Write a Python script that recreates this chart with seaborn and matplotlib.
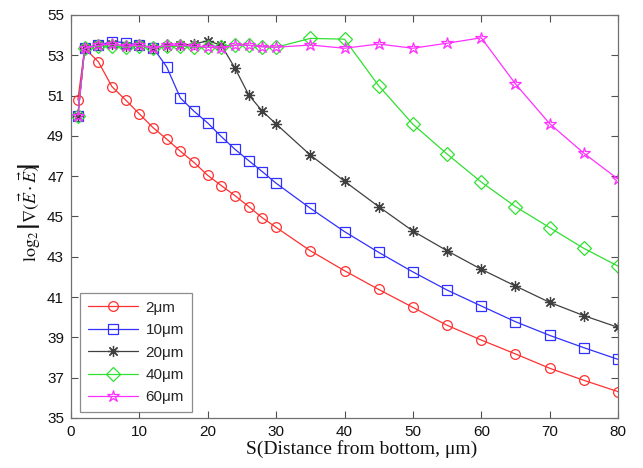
import numpy as np
import pandas as pd
import matplotlib
matplotlib.use("Agg")
import matplotlib.pyplot as plt
import seaborn as sns

x = [1, 2, 4, 6, 8, 10, 12, 14, 16, 18, 20, 22, 24, 26, 28, 30,
     35, 40, 45, 50, 55, 60, 65, 70, 75, 80]

y_2um = [50.78, 53.35, 52.68, 51.44, 50.78, 50.09, 49.41, 48.84, 48.24, 47.68,
         47.04, 46.53, 46.03, 45.49, 44.93, 44.46, 43.30, 42.31, 41.38, 40.49,
         39.60, 38.87, 38.18, 37.47, 36.87, 36.31]
y_10um = [50.0, 53.35, 53.50, 53.68, 53.63, 53.50, 53.38, 52.42, 50.88, 50.22,
          49.64, 48.96, 48.33, 47.77, 47.22, 46.65, 45.41, 44.25, 43.22, 42.25,
          41.35, 40.56, 39.78, 39.10, 38.49, 37.91]
y_20um = [50.0, 53.35, 53.50, 53.55, 53.45, 53.50, 53.35, 53.45, 53.50, 53.56,
          53.72, 53.50, 52.35, 51.03, 50.22, 49.59, 48.05, 46.75, 45.49, 44.28,
          43.30, 42.38, 41.55, 40.74, 40.08, 39.50]
y_40um = [50.0, 53.35, 53.45, 53.45, 53.40, 53.45, 53.35, 53.45, 53.45, 53.40,
          53.40, 53.43, 53.51, 53.50, 53.43, 53.40, 53.84, 53.80, 51.49, 49.58,
          48.10, 46.71, 45.49, 44.45, 43.42, 42.54]
y_60um = [50.0, 53.35, 53.50, 53.55, 53.45, 53.50, 53.35, 53.50, 53.50, 53.45,
          53.40, 53.35, 53.50, 53.50, 53.42, 53.40, 53.51, 53.35, 53.56, 53.35,
          53.60, 53.87, 51.58, 49.61, 48.14, 46.86]

labels = ["2\u03bcm", "10\u03bcm", "20\u03bcm", "40\u03bcm", "60\u03bcm"]
series = [y_2um, y_10um, y_20um, y_40um, y_60um]
colors = ["#ff3030", "#3030ff", "#404040", "#30e030", "#ff30ff"]
markers = ["o", "s", (8, 2, 0), "D", "*"]
msizes = [7, 7, 8, 7, 9]

sns.set_theme(style="white")
plt.rcParams["font.family"] = ["Liberation Sans", "DejaVu Sans"]
plt.rcParams["mathtext.fontset"] = "stix"

fig = plt.figure(figsize=(6.43, 4.68), dpi=100)
ax = fig.add_axes([71 / 643, 1 - 418 / 468, 547 / 643, 403 / 468])

for lab, ys, c, m, ms in zip(labels, series, colors, markers, msizes):
    df = pd.DataFrame({"S": x, "v": ys})
    sns.lineplot(data=df, x="S", y="v", ax=ax, color=c, marker=m,
                 markersize=ms, mfc="none", mec=c, mew=0.9, lw=0.9,
                 label=lab)

ax.set_xlim(0, 80)
ax.set_ylim(35, 55)
ax.set_xticks(range(0, 81, 10))
ax.set_yticks(range(35, 56, 2))
ax.tick_params(direction="in", length=5, width=0.8, colors="#505050",
               labelcolor="#111111", labelsize=11, top=True, right=True,
               bottom=True, left=True, pad=5)
for sp in ax.spines.values():
    sp.set_visible(True)
    sp.set_color("#707070")
    sp.set_linewidth(0.9)

ax.set_xlabel("S(Distance from bottom, \u03bcm)", fontsize=14,
              family=["Liberation Serif", "DejaVu Serif"], color="#111111")
ax.xaxis.set_label_coords(0.532, -0.055)
ax.set_ylabel(r"$\log_2\left|\nabla(\vec{E}\cdot\vec{E})\!\!\genfrac{}{}{0}{0}{\,}{\,}\!\!\right|$",
              fontsize=13, color="#111111")
ax.yaxis.set_label_coords(-0.051, 0.51)

leg = ax.legend(loc="lower left", bbox_to_anchor=(0.0165, 0.015),
                fontsize=11, frameon=True, fancybox=False, handlelength=3.3,
                handletextpad=0.5, labelspacing=0.55, borderpad=0.5,
                borderaxespad=0)
leg.get_frame().set_edgecolor("#707070")
leg.get_frame().set_linewidth(0.9)

fig.savefig("out.png", dpi=100, facecolor="white")
